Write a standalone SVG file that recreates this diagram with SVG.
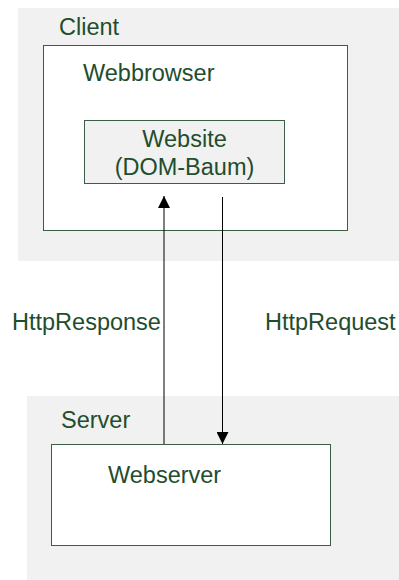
<svg xmlns="http://www.w3.org/2000/svg" width="399" height="580" viewBox="0 0 399 580">
  <style>
    .zone { fill: #f1f1f1; stroke: none; }
    .box { fill: #ffffff; stroke: #3b5e47; stroke-width: 1; }
    .inner { fill: #f0f1f0; stroke: #3b5e47; stroke-width: 1; }
    .lbl { font-family: "Liberation Sans", Arial, sans-serif; font-size: 23.5px; fill: #1f4d2e; }
    .wire { fill: none; stroke: #000000; stroke-width: 1; }
  </style>
  <defs>
    <marker id="arrow" viewBox="0 0 12 12" refX="12" refY="6" markerWidth="12" markerHeight="12" markerUnits="userSpaceOnUse" orient="auto">
      <path d="M0,0 L12,6 L0,12 Z" fill="#000000"/>
    </marker>
  </defs>

  <g id="client">
    <rect class="zone" x="18" y="8" width="381" height="253"/>
    <text class="lbl" x="59" y="35">Client</text>
  </g>

  <g id="webbrowser">
    <rect class="box" x="43.5" y="45.5" width="304" height="185"/>
    <text class="lbl" x="83" y="81">Webbrowser</text>
  </g>

  <g id="website">
    <rect class="inner" x="84.5" y="120.5" width="200" height="63"/>
    <text class="lbl" x="184.5" y="147" text-anchor="middle">Website</text>
    <text class="lbl" x="184.5" y="175" text-anchor="middle">(DOM-Baum)</text>
  </g>

  <g id="server">
    <rect class="zone" x="27" y="396" width="372" height="184"/>
    <text class="lbl" x="61" y="428">Server</text>
  </g>

  <g id="webserver">
    <rect class="box" x="51.5" y="444.5" width="279" height="101"/>
    <text class="lbl" x="108" y="483">Webserver</text>
  </g>

  <g id="connectors">
    <line class="wire" x1="164" y1="444" x2="164" y2="196" stroke="#666666" marker-end="url(#arrow)"/>
    <line class="wire" x1="222.5" y1="197" x2="222.5" y2="444" marker-end="url(#arrow)"/>
    <text class="lbl" x="12" y="330">HttpResponse</text>
    <text class="lbl" x="265" y="330">HttpRequest</text>
  </g>
</svg>
